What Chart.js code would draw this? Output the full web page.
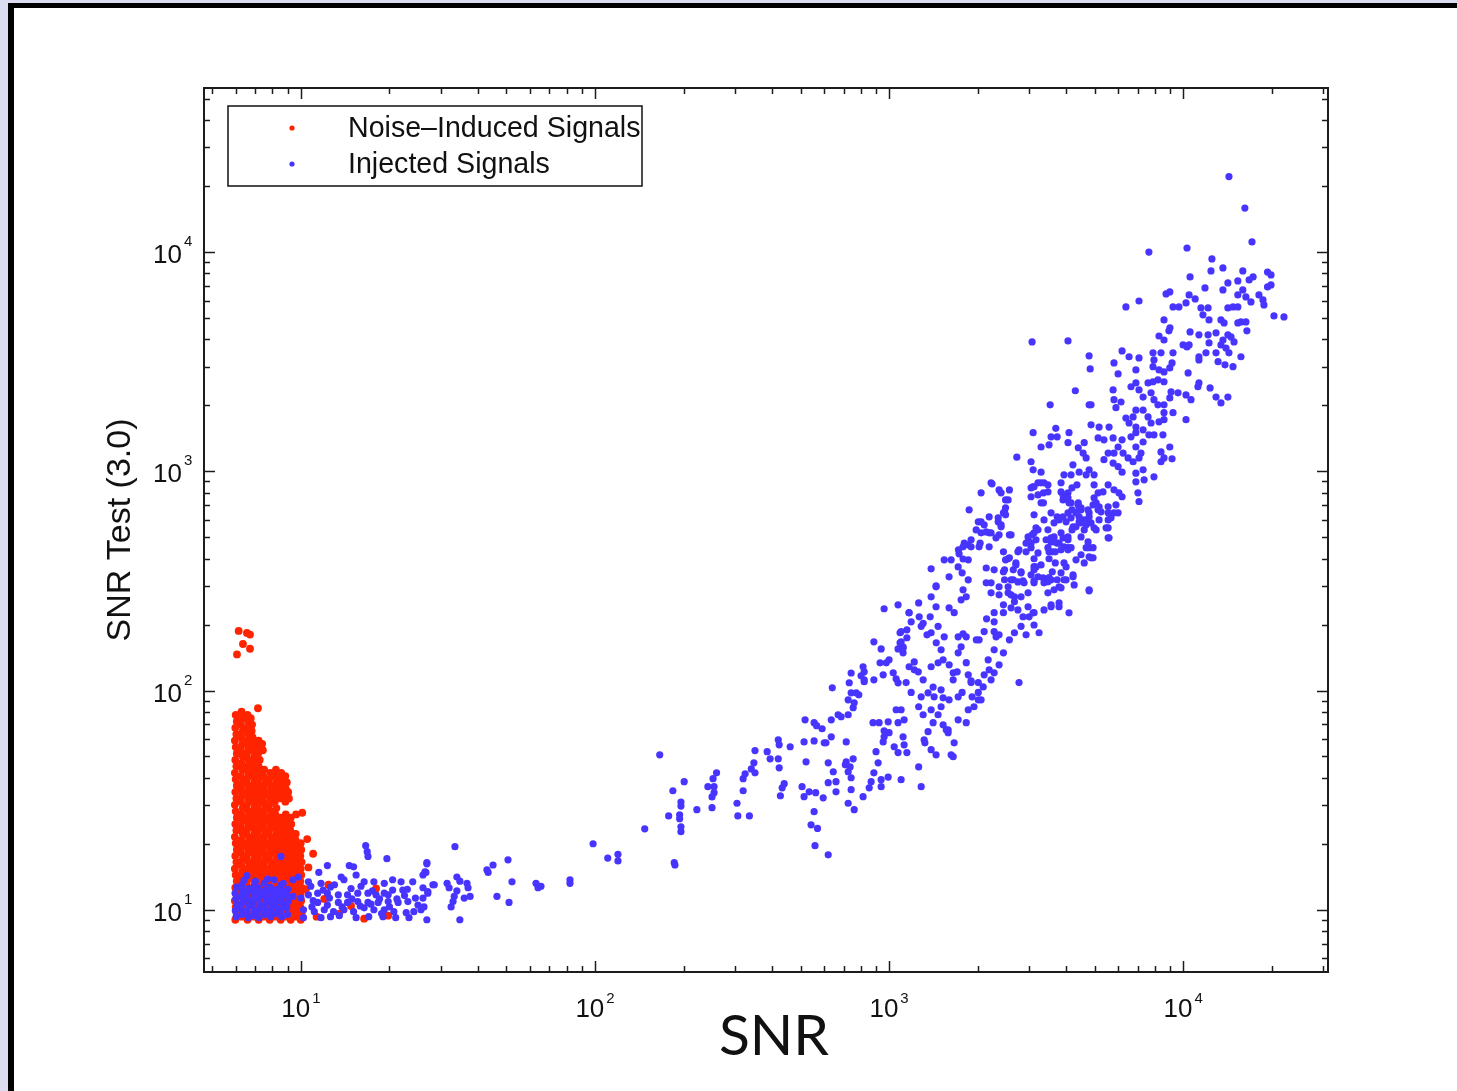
<!DOCTYPE html>
<html>
<head>
<meta charset="utf-8">
<script src="https://cdn.jsdelivr.net/npm/chart.js@4.4.0/dist/chart.umd.min.js"></script>
</head>
<body style="margin:0;background:#dcdcf0;overflow:hidden;width:1457px;height:1091px">
<div style="position:absolute;left:8px;top:3px;width:1460px;height:1100px;background:#fff;border-top:5px solid #000;border-left:6px solid #000"></div>
<canvas id="MiGrafico" width="1457" height="1091" style="position:absolute;left:0;top:0"></canvas>
<script>
// noise-induced signals: dense block at low SNR, plus a few stragglers
const noiseCore = [
  [5.98,9.0],[6.05,9.6],[6.0,10.3],[5.96,11.0],[6.03,11.8],[5.98,12.6],[6.05,13.5],[6.0,14.4],[5.96,15.4],[6.03,16.5],[5.98,17.6],[6.05,18.8],[6.0,20.1],[5.96,21.5],[6.03,23.0],[5.98,24.6],[6.05,26.3],[6.0,28.1],[5.96,30.1],[6.03,32.2],[5.98,34.4],[6.05,36.8],[6.0,39.4],[5.96,42.1],[6.03,45.1],[5.98,48.2],[6.05,51.6],[6.0,55.2],[5.96,59.1],[6.03,63.2],[5.98,67.6],[6.05,72.3],[6.0,77.4],
  [6.28,9.3],[6.34,9.9],[6.25,10.6],[6.31,11.4],[6.28,12.2],[6.34,13.0],[6.25,13.9],[6.31,14.9],[6.28,15.9],[6.34,17.0],[6.25,18.2],[6.31,19.5],[6.28,20.8],[6.34,22.2],[6.25,23.8],[6.31,25.4],[6.28,27.2],[6.34,29.1],[6.25,31.1],[6.31,33.3],[6.28,35.6],[6.34,38.1],[6.25,40.7],[6.31,43.6],[6.28,46.6],[6.34,49.9],[6.25,53.4],[6.31,57.1],[6.28,61.1],[6.34,65.4],[6.25,69.9],[6.31,74.8],[6.28,80.0],
  [6.58,9.0],[6.64,9.6],[6.55,10.3],[6.61,11.0],[6.58,11.8],[6.64,12.6],[6.55,13.5],[6.61,14.4],[6.58,15.4],[6.64,16.5],[6.55,17.6],[6.61,18.8],[6.58,20.1],[6.64,21.5],[6.55,23.0],[6.61,24.6],[6.58,26.3],[6.64,28.1],[6.55,30.1],[6.61,32.2],[6.58,34.4],[6.64,36.8],[6.55,39.4],[6.61,42.1],[6.58,45.1],[6.64,48.2],[6.55,51.6],[6.61,55.2],[6.58,59.1],[6.64,63.2],[6.55,67.6],[6.61,72.3],[6.58,77.4],
  [6.88,9.3],[6.94,9.9],[6.86,10.6],[6.92,11.4],[6.88,12.2],[6.94,13.0],[6.86,13.9],[6.92,14.9],[6.88,15.9],[6.94,17.0],[6.86,18.2],[6.92,19.5],[6.88,20.8],[6.94,22.2],[6.86,23.8],[6.92,25.4],[6.88,27.2],[6.94,29.1],[6.86,31.1],[6.92,33.3],[6.88,35.6],[6.94,38.1],[6.86,40.7],[6.92,43.6],[6.88,46.6],[6.94,49.9],[6.86,53.4],[6.92,57.1],[6.85,61.1],[6.8,65.4],[6.82,69.9],[6.75,74.8],
  [7.18,9.0],[7.24,9.6],[7.15,10.3],[7.21,11.0],[7.18,11.8],[7.24,12.6],[7.15,13.5],[7.21,14.4],[7.18,15.4],[7.24,16.5],[7.15,17.6],[7.21,18.8],[7.18,20.1],[7.24,21.5],[7.15,23.0],[7.21,24.6],[7.18,26.3],[7.24,28.1],[7.15,30.1],[7.21,32.2],[7.18,34.4],[7.24,36.8],[7.15,39.4],[7.21,42.1],[7.18,45.1],[7.24,48.2],[7.15,51.6],[7.21,55.2],[7.18,59.1],
  [7.48,9.3],[7.55,9.9],[7.45,10.6],[7.52,11.4],[7.48,12.2],[7.55,13.0],[7.45,13.9],[7.52,14.9],[7.48,15.9],[7.55,17.0],[7.45,18.2],[7.52,19.5],[7.48,20.8],[7.55,22.2],[7.45,23.8],[7.52,25.4],[7.48,27.2],[7.55,29.1],[7.45,31.1],[7.52,33.3],[7.48,35.6],[7.55,38.1],[7.45,40.7],[7.5,43.6],[7.42,53.4],[7.38,57.1],
  [7.83,9.0],[7.9,9.6],[7.8,10.3],[7.87,11.0],[7.83,11.8],[7.9,12.6],[7.8,13.5],[7.87,14.4],[7.83,15.4],[7.9,16.5],[7.8,17.6],[7.87,18.8],[7.83,20.1],[7.9,21.5],[7.8,23.0],[7.87,24.6],[7.83,26.3],[7.9,28.1],[7.8,30.1],[7.87,32.2],[7.83,34.4],[7.9,36.8],[7.8,39.4],[7.87,42.1],
  [8.18,9.3],[8.25,9.9],[8.15,10.6],[8.22,11.4],[8.18,12.2],[8.25,13.0],[8.15,13.9],[8.22,14.9],[8.18,15.9],[8.25,17.0],[8.15,18.2],[8.22,19.5],[8.18,20.8],[8.25,22.2],[8.15,23.8],[8.22,25.4],[8.18,27.2],[8.25,29.1],[8.15,31.1],[8.22,33.3],[8.18,35.6],[8.25,38.1],[8.15,40.7],[8.22,43.6],
  [8.53,9.0],[8.6,9.6],[8.5,10.3],[8.57,11.0],[8.53,11.8],[8.6,12.6],[8.5,13.5],[8.57,14.4],[8.53,15.4],[8.6,16.5],[8.5,17.6],[8.57,18.8],[8.53,20.1],[8.6,21.5],[8.5,23.0],[8.57,24.6],[8.53,26.3],[8.57,32.2],[8.53,34.4],[8.6,36.8],[8.5,39.4],[8.57,42.1],
  [8.88,9.3],[8.95,9.9],[8.85,10.6],[8.92,11.4],[8.88,12.2],[8.95,13.0],[8.85,13.9],[8.92,14.9],[8.88,15.9],[8.95,17.0],[8.85,18.2],[8.92,19.5],[8.88,20.8],[8.95,22.2],[8.85,23.8],[8.92,25.4],[8.88,27.2],[8.85,31.1],[8.92,33.3],[8.88,35.6],[8.95,38.1],[8.85,40.7],
  [9.23,9.0],[9.3,9.6],[9.2,10.3],[9.27,11.0],[9.23,11.8],[9.3,12.6],[9.2,13.5],[9.27,14.4],[9.23,15.4],[9.3,16.5],[9.2,17.6],[9.27,18.8],[9.23,20.1],[9.3,21.5],[9.2,23.0],[9.27,24.6],[9.23,26.3],[9.1,32.2],[9.05,34.4],
  [9.58,9.3],[9.65,9.9],[9.55,10.6],[9.62,11.4],[9.58,12.2],[9.65,13.0],[9.55,13.9],[9.62,14.9],[9.58,15.9],[9.65,17.0],[9.55,18.2],[9.62,19.5],[9.58,20.8],[9.6,22.2],[9.62,27.2],
  [9.98,9.0],[10.05,9.6],[9.95,10.3],[10.02,11.0],[9.98,11.8],[10.05,12.6],[9.95,13.5],[10.02,14.4],[9.98,15.4],[10.05,16.5],[9.95,17.6],[10.02,18.8],[9.98,20.1],[10.1,27.7]
];
const noiseStray = [
  [6.14,187],[6.55,183],[6.71,180],[6.35,163],[6.71,155],[6.06,146],[7.14,83],
  [10.6,15.6],[11.0,18.0],[10.5,21.0],[12.4,13.0],[10.4,12.4],[16.4,9.1],[11.3,9.3],[13.5,9.6],[14.8,10.4],[19.8,9.4],[12.0,11.2],[18.0,12.5]
];

// injected signals
const injectedLow = [
  [6.02,9.3],[5.98,9.9],[6.05,10.5],[6.0,11.2],[5.97,11.9],[6.04,12.7],
  [6.3,9.5],[6.27,10.1],[6.34,10.8],[6.28,11.5],[6.33,12.2],[6.3,13.0],
  [6.62,9.2],[6.57,9.8],[6.65,10.4],[6.6,11.1],[6.55,11.8],[6.63,12.5],
  [6.9,9.4],[6.95,10.0],[6.87,10.7],[6.93,11.4],[6.88,12.1],[6.96,12.9],
  [7.2,9.2],[7.15,9.9],[7.25,10.5],[7.18,11.2],[7.23,11.9],[7.17,12.6],
  [7.55,9.5],[7.5,10.1],[7.6,10.8],[7.53,11.5],[7.58,12.3],[7.5,13.2],
  [7.9,9.3],[7.85,9.9],[7.95,10.5],[7.88,11.2],[7.93,11.9],[7.87,12.7],
  [8.25,9.6],[8.2,10.3],[8.3,11.0],[8.22,11.7],[8.28,12.4],
  [8.6,9.3],[8.55,10.0],[8.65,10.7],[8.58,11.4],[8.62,12.2],[8.55,13.0],
  [9.0,9.5],[8.95,10.2],[9.05,10.9],[8.98,11.6],[9.02,12.4],
  [6.55,14.3],[8.55,17.5],[6.4,13.6],[7.0,13.5],[7.7,13.8],[8.1,13.7],[8.7,13.2],[9.4,13.7],[9.8,14.1],
  [16.6,19.6],[16.8,18.4],[16.9,17.5],[19.6,17.1],[12.3,15.9],[14.6,15.9],[15.1,15.7],[26.8,16.2],[26.4,14.9],[26.0,14.4],[28.1,13.0],[11.5,14.8],[10.6,13.4],[11.7,13.2],[12.6,12.7],[13.7,14.1],[14.0,13.7],[15.4,14.4],[16.4,13.4],[17.7,13.4],[19.2,13.2],[20.5,13.7],[21.9,13.4],[24.0,13.4],[26.0,12.6],[27.0,11.9],[22.2,12.3],[20.5,12.3],[19.2,11.9],[18.0,11.7],[16.9,11.9],[15.6,11.9],[14.4,11.7],[13.4,11.7],[12.3,11.9],[11.4,11.9],[10.6,11.7],[10.0,11.3],[9.4,11.5],[11.4,10.8],[12.3,10.5],[13.4,10.8],[14.4,10.8],[15.6,10.9],[16.9,10.8],[18.3,10.8],[19.8,10.9],[21.4,10.8],[23.1,10.9],[25.0,10.5],[25.6,10.0],[24.2,9.8],[22.8,9.7],[20.7,9.8],[19.2,10.0],[17.7,10.0],[16.4,10.2],[15.1,9.8],[14.0,10.0],[12.9,9.8],[12.0,10.0],[11.1,9.8],[10.2,10.0],[11.7,9.2],[12.6,9.3],[15.4,9.2],[17.0,9.3],[19.0,9.3],[21.0,9.2],[23.3,9.2],[26.8,9.0],[10.2,9.2],
  [10.8,12.8],[11.9,12.3],[13.0,13.0],[14.8,12.5],[16.0,12.8],[17.5,12.2],[18.5,11.2],[19.8,11.7],[21.2,11.2],[22.5,11.6],[13.8,10.3],[15.9,10.4],[10.9,10.3],[12.5,11.3],[14.9,11.2],[17.3,10.6],[23.0,12.4],[24.5,11.3],[20.0,10.3],[18.8,9.6],[13.5,9.4],[11.0,11.0],
  [26.8,16.4],[26.6,14.8],[28.4,13.0],[27.0,12.1],[26.0,11.3],[26.2,10.3]
];
const injectedMid = [
  [33.4,19.4],[31.4,13.2],[31.9,12.6],[33.9,14.1],[34.7,13.5],[36.7,13.2],[37.0,12.6],[33.9,12.2],[33.2,11.5],[32.9,10.9],[32.4,10.3],[35.9,11.3],[37.6,11.5],[34.7,9.0],[42.9,15.2],[43.3,14.8],[45.0,16.0],[50.6,16.9],[52.2,13.4],[46.4,11.5],[51.0,10.8],[63.0,13.2],[65.5,12.8],[64.0,12.6],[82.2,13.7],[82.2,13.2],[98.5,20.0],[110.5,17.2],[119.7,17.9],[119.7,16.7],[147.6,23.4],
  [166,50.9],[178,26.8],[184,34.9],[196,31.0],[196,29.7],[194,27.1],[194,26.0],[196,23.9],[196,22.7],[201,38.4],[186,16.4],[187,16.0],[222,28.6],[242,36.4],[250,29.2],[252,39.6],[254,36.4],[254,34.2],[250,32.7],[259,42.1]
];
const injectedBand = [
  [304,30.6],[306,26.8],[335,26.8],[319,34.9],[319,39.6],[324,41.7],[340,43.9],[350,53.2],[350,42.1],[347,46.8],[385,52.6],[394,48.8],[420,59.6],[423,56.5],[420,48.8],[423,44.4],[440,37.6],[433,36.0],[427,33.1],[461,55.4],[506,36.4],[518,73.5],[514,58.3],[522,47.3],[514,32.8],[535,34.5],[556,71.3],[567,69.1],[592,66.9],[556,58.9],[556,28.0],[543,24.4],[571,23.5],[560,19.6],[621,17.8],[597,32.4],[610,57.7],[636,73.5],[621,46.8],[646,42.6],[660,38.4],[660,34.5],[641,102.8],[636,61.5],[671,77.5],[687,75.9],[726,77.5],[715,58.3],[715,47.3],[726,42.6],[743,35.3],[726,30.6],[761,28.6],[816,32.8],[856,36.0],[869,38.4],[888,42.1],[918,46.8],[903,52.6],[882,71.3],[955,58.3],[993,72.0],[1000,64.2],[1057,81.7],[755,83.5],[743,97.6],[773,97.6],[726,90.7],[761,87.9],[732,108.5],[789,95.6],[823,111.9],[888,111.9],[925,71.3],[962,65.5],[993,40.3],[940,39.2],[940,36.4],
  [563,34.2],[602,57.7],[710,45.8],[737,44.8],[755,48.8],[743,40.0],[621,38.0],[743,120.2],[816,128.3],[823,121.7],[803,116.7],[823,109.6],[888,166.8],[940,154.8],[932,133.8],[955,117.9],[978,133.8],[1000,138],[1033,120.4],[1057,113.1],[1073,108.4],[1073,154.8],[1090,165],[1116,158.2],[1090,183.4],[1150,189.2],[1150,174],[1169,226.4],[1116,148.6],[1189,205.8],[1266,216.8],[1286,196.2],[1306,202.5],[1380,216.8],[1346,179.5],[1447,165],[1503,153.3],[1527,138],[1601,131],[1652,120.4],[1652,111.9],[1705,121.7],[1718,148.6],[1830,134],[1859,117.9],[1901,108.7],[2011,108.7],[2011,98],[2011,90.7],[1916,93.6],[1718,175.8],[1785,181.4],[1830,175.8],[1758,158.2],[1980,170.3],[2024,170.3],[2106,185.6],[2146,212.3],[2277,185.6],[2312,175.8],[2367,179.5],[2277,153.3],[2173,138],[2190,124.3],[2106,117.9],[2223,111.9],[2277,120.4],[2367,131],[2449,148.6],[2566,170.3],[2669,183.4],[2811,196.2],[2924,179.5],[2993,216.8],[2767,108.7],[2449,226.4],[2277,226.4],[2277,205.8],[2449,245.9],[2600,238.3],[2669,267.5],[2540,279],[2367,273.2],[2367,297],[2600,319.8],[2743,312.8],[2855,316],[2811,348],[2700,382],[2566,513],[2449,429],[2743,429],[2490,394.5],[2645,355],[2449,348],[2277,355],[2223,310],[2223,279],[2140,310],[2106,570],[2190,524],[2011,588],[2056,524],[2190,620],[2350,588],[2449,646],[2404,570],[2367,513],[2490,681],[2490,740],[2367,822],[2223,886],[2056,797],[1872,667],[2040,470],[1901,487],[1859,462],[1785,452],[1722,438],[1859,394.5],[1718,366],[1600,330],[1445,297],[1390,267.5],[1261,251],[1170,226],[1099,185.6],[1099,166.8],[1116,156],[1218,135],[1257,121.7],[1306,111.9],[1390,128.3],[1468,133.8],[1412,103.7],[1503,100.7],[1527,92.6],[1423,93.6],[1357,97.6],[1286,93.6],[1261,84.3],[1306,77.5],[1390,81.7],[1468,77.5],[1527,69.8],[1588,66.2],[1412,71.3],[1357,64.9],[1324,57.7],[1390,53.7],[1445,50.9],[1099,81.7],[1125,73.5],[1073,71.3],[978,64.2],[962,61.5],[1116,61.5],[1125,56.5],[1041,55.4],[1150,52.1],[1073,52.1],[1099,39.2],[1286,36.4],[1261,44.8],[1316,59.6],[1626,50.9],[1652,49.9],[1665,57.7],[1588,64.2],[1565,66.2],[1718,73.5],[1830,71.3],[1859,81.7],[1945,84.3],[2056,90.7],[2090,103.8],[1901,110.7],[1772,98],[1718,93.6],[1600,90.7],[1503,84.3],[1218,124.3],[1170,128.3],[1143,108.7],[1189,98],[1390,183.4],[1468,196.2],[1540,175.8],[1665,226.4],[1600,238.3],[1445,241],[1758,259.2],[1830,267.5],[1785,287.9],[1859,319.8],[1772,344],[1626,394.5],[1540,394.5],[2140,362],[962,236],[1073,246],[1390,359],[1445,300],
  [2240,876],[2404,797],[2566,822],[2540,740],[2470,653],[2490,633],[2350,613],[2404,558],[2223,524],[2310,497],[2600,513],[1978,540],[2056,588],[2140,529],[1802,470],[1901,452],[1730,420],[1785,398],[2024,452],[2190,452],[2970,502],[2767,438],[2720,1160],[2970,241],[2855,217],[2743,233],[2669,254],[2811,267.5],[2970,279],[2600,273],[2540,297],[2470,320],[2645,320],[2811,344],[2878,310],[2700,374],[2566,403],[2924,429],[2993,476],[2470,646],[2540,399],[2470,355]
];
const injectedHigh = [
  [3040,337],[3112,316],[3210,330],[3340,326.6],[3470,313],[3556,319.8],[3786,297],[4000,319.8],[3845,344],[3935,382],[4224,330],[3675,382],[3590,429],[3786,470],[4060,486.7],[4158,448],[4323,558],[4497,582],[4750,600],[4790,448],[4863,403],[4790,288],[3786,241],[4093,226],[3556,241],[3500,429],[3210,424],[3112,367],[3160,486.7],[3065,513],[3210,540.6],[3470,540.6],[3640,582],[3905,620],[4060,646],[4190,667],[4497,681],[4060,757],[4060,797],[3905,780],[4190,840],[4355,867],[4980,867],[5060,718],[5140,667],[4790,646],[3470,867],[3288,886],[3080,849],[3210,780],[3288,718],[3365,600],[3112,633],[2924,470],[2970,476],[3237,183.4],[3112,226.4],[3040,448],
  [14320,22100],[16220,15860],[17150,11120],[7650,10000],[10310,10430],[12530,9300],[12440,8200],[13660,8460],[15960,8200],[17300,7700],[16770,7460],[15350,7380],[14200,7230],[19370,8110],[19900,7860],[19900,7080],[19370,6930],[10560,7700],[11870,6860],[8750,6440],[9010,6580],[10480,6370],[10990,6110],[13660,6720],[15960,6720],[15350,6370],[16350,6240],[17010,5920],[18110,6370],[18690,6050],[18830,5740],[20370,5110],[22030,5060],[6390,5620],[7080,5980],[9240,5620],[9680,5620],[10230,5860],[11500,5560],[12160,5560],[11680,5170],[12250,4900],[13450,4900],[13780,4750],[14200,5560],[14780,5620],[15350,5620],[15730,4800],[16350,4800],[16480,4370],[15350,4750],[8610,4900],[9020,4510],[8950,4370],[8280,4140],[8610,3970],[10560,4320],[11320,4190],[12160,4190],[12940,4280],[12250,3850],[13660,3970],[14200,4190],[14550,4100],[14900,3890],[13450,3770],[13990,3650],[14320,3470],[15730,3330],[14780,3000],[13880,3060],[13150,3160],[12940,3470],[11960,3470],[11320,3330],[11320,3220],[10310,3690],[10480,3770],[10000,3770],[9240,3470],[9170,3120],[9010,2960],[8610,2840],[8410,3470],[7900,3470],[7960,3220],[7900,3000],[8280,2900],[6910,2900],[7080,3290],[6200,3540],[6550,3330],[5820,3120],[6010,2780],[4790,3360],[4830,2930],[4060,3930],[3064,3890],[4300,2330],[3530,2010],[4863,2010],[5780,2350],[5820,2120],[5910,1950],[6150,2070],[6390,1750],[6650,2430],[6910,2530],[7080,2350],[7310,2180],[7600,2530],[7900,2560],[8210,2610],[8610,2560],[7780,2280],[7960,2120],[8210,2010],[8610,2010],[9010,2160],[9100,2300],[9610,2280],[10230,2230],[10640,2120],[10230,1720],[9240,1850],[8610,1850],[8610,1720],[8280,1680],[7780,1660],[7600,1770],[7310,1900],[6910,1900],[6760,1770],[6550,1660],[6910,1590],[7310,1545],[7650,1466],[7960,1466],[8540,1466],[7310,1360],[6910,1290],[7190,1210],[7080,1150],[6760,1105],[6500,1150],[6250,1210],[6010,1290],[5820,1210],[5560,1210],[5380,1130],[5780,1090],[6010,1050],[6200,990],[6910,980],[7310,1015],[6910,895],[7370,914],[7020,797],[7080,728],[7960,943],[8410,1105],[8610,1150],[8410,1225],[9010,1290],[9170,1140],[6200,1391],[6650,1436],[6910,1500],[4790,2010],[4863,1628],[5180,1590],[5600,1590],[5140,1420],[5380,1391],[5780,1420],[4610,1350],[4400,1280],[4570,1210],[4680,1150],[4220,1070],[4430,990],[4680,963],[4980,963],[4790,1015],[4158,963],[3935,963],[3905,740],[4093,718],[4400,718],[4430,667],[4750,667],[4940,703],[4980,757],[5340,805],[5560,867],[5820,823],[6050,797],[6200,765],[5140,797],[5180,688],[5560,688],[5820,646],[5560,600],[5180,600],[4863,582],[4610,600],[4430,620],[4610,540],[4680,448],[4940,448],[5560,552],[5600,497],[4224,558],[4060,502],[3845,524],[3640,502],[3556,476],[3730,620],[3556,646],[3350,797],[3470,805],[3210,886],[3365,886],[3040,840],[3090,1015],[3040,1105],[3288,990],[3288,1290],[3090,1500],[3500,1320],[3556,1436],[3730,1436],[3690,1570],[4093,1500],[4060,1350],[3040,470],[3160,552],[3470,448],[3730,470],[4060,448],[4497,416],[4790,407],
  [12940,2180],[14200,2180],[13450,2050],[12350,2400],[11230,2430],[11320,2530],[10400,2810],
  [5910,703],[6010,646],[5560,646],[5687,613],[5259,653],[4790,620],[4980,552],[4680,570],[4430,588],[4190,540],[4497,502],[4750,476],[5060,540],[5470,552],[5560,497],[4940,403],[4610,382],[4323,394.5],[4000,366],[4224,337],[4260,303],[4790,285],[3935,320],[3845,294],[3730,320],[3590,348],[3500,327],[3365,310],[3112,355],[3160,366],[3288,374],[3112,310],[3470,279],[3640,288],[3786,251],[3556,246],[3365,233],[3090,226],[3112,199],[3112,399],[3112,524],[3420,487],[3556,497],[3640,476],[3675,429],[3500,399],[3845,438],[3935,452],[4060,438],[3905,497],[3786,600],[4000,588],[4158,613],[4323,646],[4497,667],[4390,703],[4158,718],[3935,765],[3845,805],[3845,886],[3112,849],[3040,765],[3350,718]
];

const seriesNames = ['Noise\u2013Induced Signals', 'Injected Signals'];
const seriesColors = ['rgb(255,36,0)', 'rgb(72,52,255)'];
const tickPowers = [10, 100, 1000, 10000];
const tickExponents = ['1', '2', '3', '4'];
const minorSteps = [2, 3, 4, 5, 6, 7, 8, 9];

function allTicks(min, max) {
  const out = [];
  [1, 10, 100, 1000, 10000].forEach(d => {
    [1].concat(minorSteps).forEach(m => {
      const v = d * m;
      if (v > min && v < max) out.push({ v: v, major: m === 1 });
    });
  });
  return out;
}

function powerLabel(ctx, exp, xPos, base, supBase, align) {
  ctx.font = '26px "Liberation Sans", Arial, sans-serif';
  const w1 = ctx.measureText('10').width;
  ctx.font = '15px "Liberation Sans", Arial, sans-serif';
  const w2 = ctx.measureText(exp).width;
  let left;
  if (align === 'center') left = xPos - (w1 + 2 + w2) / 2;
  else left = xPos - w1;
  ctx.textAlign = 'left';
  ctx.textBaseline = 'alphabetic';
  ctx.font = '26px "Liberation Sans", Arial, sans-serif';
  ctx.fillText('10', left, base);
  ctx.font = '15px "Liberation Sans", Arial, sans-serif';
  ctx.fillText(exp, left + w1 + 2, supBase);
}

const marco = {
  id: 'marco',
  afterDraw(chart) {
    const ctx = chart.ctx;
    const a = chart.chartArea;
    const x = chart.scales.x, y = chart.scales.y;
    ctx.save();
    ctx.strokeStyle = '#1c1c1c';
    ctx.lineWidth = 2;
    ctx.strokeRect(a.left, a.top, a.right - a.left, a.bottom - a.top);

    ctx.lineWidth = 1.5;
    ctx.beginPath();
    allTicks(x.min, x.max).forEach(t => {
      const p = Math.round(x.getPixelForValue(t.v)) + 0.5;
      const len = t.major ? 11 : 6;
      ctx.moveTo(p, a.bottom); ctx.lineTo(p, a.bottom - len);
      ctx.moveTo(p, a.top); ctx.lineTo(p, a.top + len);
    });
    allTicks(y.min, y.max).forEach(t => {
      const p = Math.round(y.getPixelForValue(t.v)) + 0.5;
      const len = t.major ? 11 : 6;
      ctx.moveTo(a.left, p); ctx.lineTo(a.left + len, p);
      ctx.moveTo(a.right, p); ctx.lineTo(a.right - len, p);
    });
    ctx.stroke();

    ctx.fillStyle = '#111';
    tickPowers.forEach((v, i) => {
      const px = x.getPixelForValue(v);
      powerLabel(ctx, tickExponents[i], px, a.bottom + 45, a.bottom + 31, 'center');
      const py = y.getPixelForValue(v);
      powerLabel(ctx, tickExponents[i], a.left - 22, py + 11, py - 6, 'right');
    });

    // axis titles
    ctx.textAlign = 'center';
    ctx.textBaseline = 'alphabetic';
    ctx.font = '57px Lato, "Open Sans", sans-serif';
    ctx.fillText('SNR', (a.left + a.right) / 2 + 8, 1055);
    ctx.save();
    ctx.translate(130, 530);
    ctx.rotate(-Math.PI / 2);
    ctx.font = '34px "Liberation Sans", Arial, sans-serif';
    ctx.fillText('SNR Test (3.0)', 0, 0);
    ctx.restore();

    // legend
    const lx = a.left + 24, ly = a.top + 18;
    ctx.fillStyle = '#fff';
    ctx.fillRect(lx, ly, 414, 80);
    ctx.lineWidth = 1.5;
    ctx.strokeStyle = '#111';
    ctx.strokeRect(lx, ly, 414, 80);
    ctx.textAlign = 'left';
    ctx.font = '28.6px "Liberation Sans", Arial, sans-serif';
    seriesNames.forEach((name, i) => {
      const cy = ly + 22 + i * 36;
      ctx.fillStyle = seriesColors[i];
      ctx.beginPath();
      ctx.arc(lx + 64, cy, 2.6, 0, Math.PI * 2);
      ctx.fill();
      ctx.fillStyle = '#111';
      ctx.fillText(name, lx + 120, cy + 9);
    });
    ctx.restore();
  }
};

let miGrafico = document.getElementById('MiGrafico').getContext('2d');

new Chart(miGrafico, {
  type: 'scatter',
  data: {
    datasets: [
      {
        label: seriesNames[0],
        data: noiseCore.concat(noiseStray),
        backgroundColor: seriesColors[0],
        pointRadius: 3.9,
        pointBorderWidth: 0,
        pointHoverRadius: 3.9,
        order: 2
      },
      {
        label: seriesNames[1],
        data: injectedLow.concat(injectedMid, injectedBand, injectedHigh),
        backgroundColor: seriesColors[1],
        pointRadius: 3.6,
        pointBorderWidth: 0,
        pointHoverRadius: 3.6,
        order: 1
      }
    ]
  },
  options: {
    responsive: false,
    animation: false,
    events: [],
    layout: { padding: { left: 204, top: 88, right: 129, bottom: 119 } },
    plugins: { legend: { display: false }, tooltip: { enabled: false } },
    scales: {
      x: { type: 'logarithmic', min: 4.68, max: 31100, display: false },
      y: { type: 'logarithmic', min: 5.2, max: 56000, display: false }
    }
  },
  plugins: [marco]
});
</script>
</body>
</html>
